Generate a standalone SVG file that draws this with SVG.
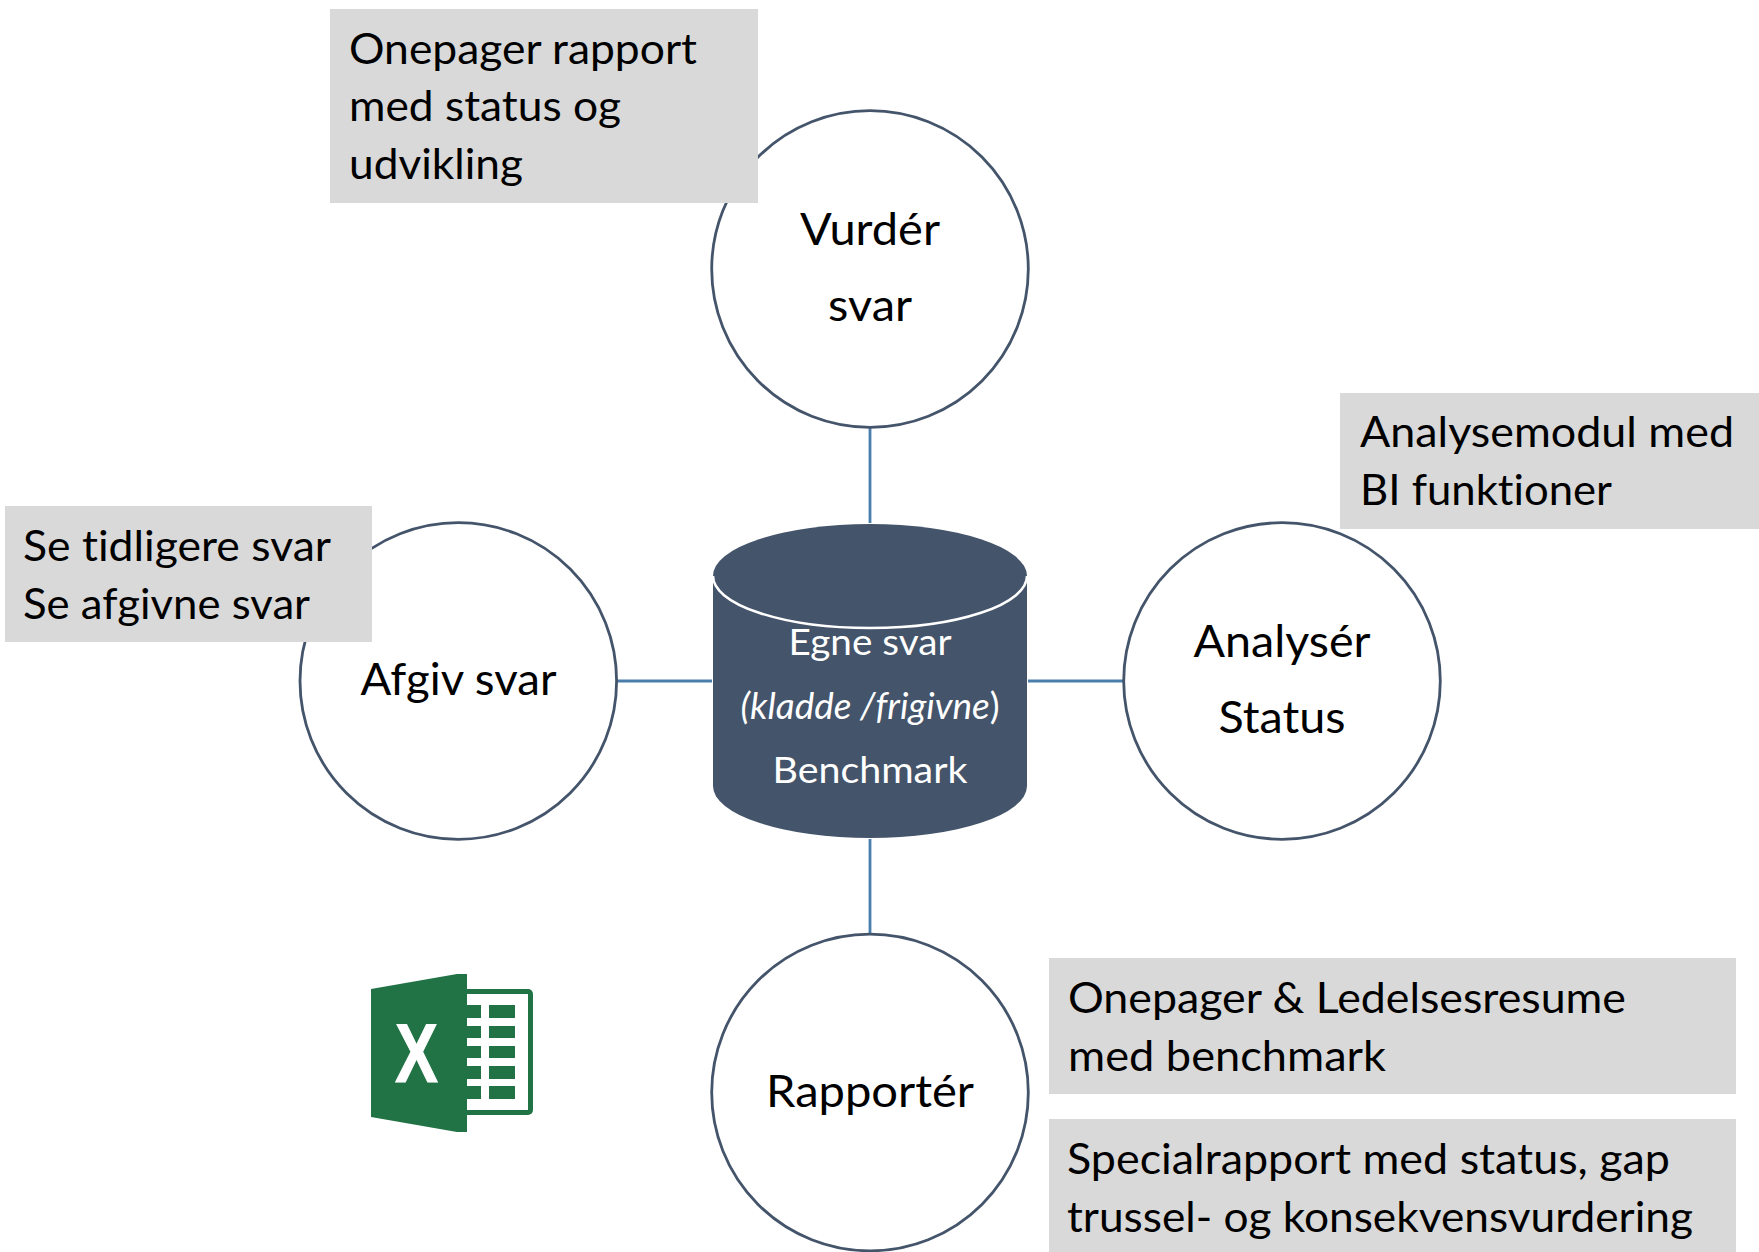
<svg xmlns="http://www.w3.org/2000/svg" width="1759" height="1252" viewBox="0 0 1759 1252">
<style>
text{font-family:"Lato","Open Sans",sans-serif;font-size:42.5px;fill:#000;font-variant-ligatures:none}
.lg{font-size:45px;text-anchor:middle}
.db{font-size:37px;fill:#fff;text-anchor:middle}
.c{fill:#fff;stroke:#44546a;stroke-width:2.8}
.n{fill:#d9d9d9}
.l{stroke:#4a7ead;stroke-width:2.8;fill:none}
.g{fill:#217346}
</style>
<rect width="1759" height="1252" fill="#fff"/>
<g id="connectors">
<path class="l" d="M870 427V523M870 839V935M617 681H712M1028 681H1124"/>
</g>
<g id="node-vurder"><circle class="c" cx="870" cy="269" r="158.3"/><text class="lg" x="870" y="245" textLength="140" lengthAdjust="spacingAndGlyphs">Vurdér</text><text class="lg" x="870" y="321" textLength="84" lengthAdjust="spacingAndGlyphs">svar</text></g>
<g id="node-afgiv"><circle class="c" cx="458.3" cy="681" r="158.3"/><text class="lg" x="458.5" y="695" textLength="196" lengthAdjust="spacingAndGlyphs">Afgiv svar</text></g>
<g id="node-analyser"><circle class="c" cx="1282" cy="681" r="158.3"/><text class="lg" x="1282" y="657" textLength="177" lengthAdjust="spacingAndGlyphs">Analysér</text><text class="lg" x="1282" y="733" textLength="127" lengthAdjust="spacingAndGlyphs">Status</text></g>
<g id="node-rapporter"><circle class="c" cx="870" cy="1092.5" r="158.3"/><text class="lg" x="870" y="1107" textLength="208" lengthAdjust="spacingAndGlyphs">Rapportér</text></g>
<g id="node-database">
<path fill="#44546a" d="M713 576A157 52 0 0 1 1027 576V786A157 52 0 0 1 713 786Z"/>
<path fill="none" stroke="#fff" stroke-width="2.6" d="M713 576A157 52 0 0 0 1027 576"/>
<text class="db" x="870" y="654.5" textLength="163" lengthAdjust="spacingAndGlyphs">Egne svar</text>
<text class="db" x="870" y="719" textLength="259" lengthAdjust="spacingAndGlyphs"><tspan font-style="italic">(kladde /frigivne</tspan>)</text>
<text class="db" x="870" y="783" textLength="195" lengthAdjust="spacingAndGlyphs">Benchmark</text>
</g>
<g id="note-onepager"><rect class="n" x="330" y="9" width="428" height="194"/><text x="349" y="63.5" textLength="348" lengthAdjust="spacingAndGlyphs">Onepager rapport</text><text x="349" y="121" textLength="272" lengthAdjust="spacingAndGlyphs">med status og</text><text x="349" y="179" textLength="174" lengthAdjust="spacingAndGlyphs">udvikling</text></g>
<g id="note-analyse"><rect class="n" x="1340" y="393" width="419" height="136"/><text x="1360" y="447" textLength="374" lengthAdjust="spacingAndGlyphs">Analysemodul med</text><text x="1360" y="505" textLength="252" lengthAdjust="spacingAndGlyphs">BI funktioner</text></g>
<g id="note-svar"><rect class="n" x="5" y="506" width="367" height="136"/><text x="23" y="560.5" textLength="308" lengthAdjust="spacingAndGlyphs">Se tidligere svar</text><text x="23" y="618.5" textLength="287" lengthAdjust="spacingAndGlyphs">Se afgivne svar</text></g>
<g id="note-ledelse"><rect class="n" x="1049" y="958" width="687" height="136"/><text x="1068" y="1012.5" textLength="558" lengthAdjust="spacingAndGlyphs">Onepager &amp; Ledelsesresume</text><text x="1068" y="1070.5" textLength="318" lengthAdjust="spacingAndGlyphs">med benchmark</text></g>
<g id="note-special"><rect class="n" x="1049" y="1119" width="687" height="133"/><text x="1067" y="1173.5" textLength="603" lengthAdjust="spacingAndGlyphs">Specialrapport med status, gap</text><text x="1067" y="1231.5" textLength="626" lengthAdjust="spacingAndGlyphs">trussel- og konsekvensvurdering</text></g>
<g id="excel-icon">
<rect class="g" x="460" y="989" width="73" height="126" rx="5"/>
<rect fill="#fff" x="467" y="994" width="61" height="116"/>
<path class="g" d="M467 1005h14v13h-14zM489 1005h26v13h-26zM467 1026h14v12h-14zM489 1026h26v12h-26zM467 1046h14v12h-14zM489 1046h26v12h-26zM467 1066h14v13h-14zM489 1066h26v13h-26zM467 1086h14v13h-14zM489 1086h26v13h-26z"/>
<path class="g" d="M371 989L457 974H467V1132H457L371 1117Z"/>
<text x="416.5" y="1082" style="font-family:'Liberation Sans',sans-serif;font-size:84px;font-weight:bold;fill:#fff;stroke:#fff;stroke-width:1;text-anchor:middle" textLength="43" lengthAdjust="spacingAndGlyphs">X</text>
</g>
</svg>
